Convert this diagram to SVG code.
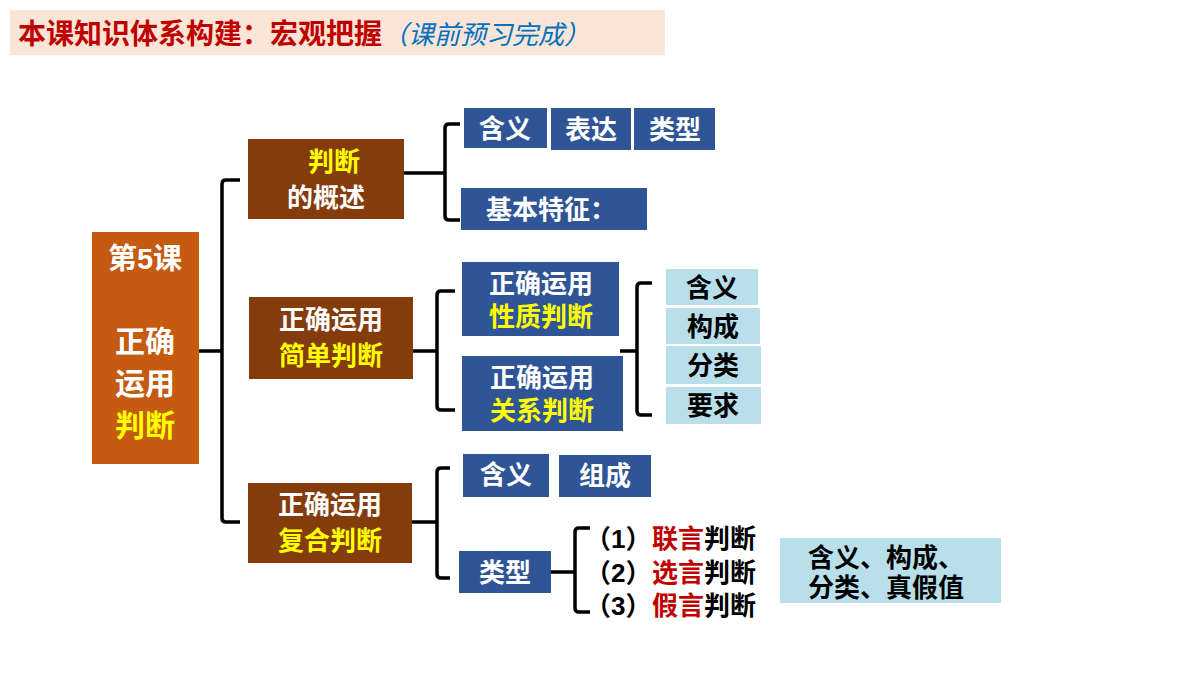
<svg xmlns="http://www.w3.org/2000/svg" width="1200" height="675" viewBox="0 0 1200 675">
<style>
text{font-family:"Liberation Sans","Noto Sans CJK SC",sans-serif;font-weight:bold}
.br{fill:#843c0c}.bl{fill:#2f5597}.lb{fill:#b9dfea}
.w{fill:#fff;font-size:26px}.y{fill:#ffff00;font-size:26px}.k{fill:#000;font-size:26px}.r{fill:#c00000;font-size:26px}
.c{stroke:#000;stroke-width:3.5;fill:none}
</style>
<rect width="1200" height="675" fill="#fff"/>
<g id="title"><rect x="10" y="10" width="655" height="45" fill="#fbe5d6"/>
<text x="18" y="44" font-size="28" fill="#c00000">本课知识体系构建：宏观把握<tspan fill="#0070c0" font-weight="normal" font-style="italic" font-size="26">（课前预习完成）</tspan></text></g>
<g id="connectors">
<path class="c" d="M199 351H222M240 180H226Q222 180 222 184V518Q222 522 226 522H240"/>
<path class="c" d="M404 173H445M460 124H449Q445 124 445 128V216Q445 220 449 220H460"/>
<path class="c" d="M413 351H437M455 291H441Q437 291 437 295V406Q437 410 441 410H455"/>
<path class="c" d="M620 351H637M652 283H641Q637 283 637 287V411Q637 415 641 415H652"/>
<path class="c" d="M412 522H437M450 468H441Q437 468 437 472V574Q437 578 441 578H450"/>
<path class="c" d="M551 572H575M590 528H579Q575 528 575 532V608Q575 612 579 612H590"/>
</g>
<g id="main"><rect x="92" y="232" width="107" height="232" fill="#c55a11"/>
<text x="145" y="269" font-size="29" fill="#fff" text-anchor="middle">第5课</text>
<text x="145" y="352" class="w" text-anchor="middle" style="font-size:30px">正确</text>
<text x="145" y="394" class="w" text-anchor="middle" style="font-size:30px">运用</text>
<text x="145" y="436" class="y" text-anchor="middle" style="font-size:30px">判断</text></g>
<g id="nodeA"><rect class="br" x="248" y="139" width="156" height="80"/><text x="334" y="171" class="y" text-anchor="middle">判断</text><text x="326" y="207" class="w" text-anchor="middle">的概述</text></g>
<g id="nodeB"><rect class="br" x="249" y="297" width="164" height="82"/><text x="331" y="329" class="w" text-anchor="middle">正确运用</text><text x="331" y="365" class="y" text-anchor="middle">简单判断</text></g>
<g id="nodeC"><rect class="br" x="248" y="483" width="164" height="80"/><text x="330" y="514" class="w" text-anchor="middle">正确运用</text><text x="330" y="550" class="y" text-anchor="middle">复合判断</text></g>
<g id="a1"><rect class="bl" x="464" y="108" width="83" height="40"/><text x="505" y="138" class="w" text-anchor="middle">含义</text></g>
<g id="a2"><rect class="bl" x="551" y="108" width="80" height="42"/><text x="591" y="139" class="w" text-anchor="middle">表达</text></g>
<g id="a3"><rect class="bl" x="634" y="108" width="81" height="42"/><text x="675" y="139" class="w" text-anchor="middle">类型</text></g>
<g id="a4"><rect class="bl" x="461" y="188" width="186" height="42"/><text x="486" y="219" class="w">基本特征：</text></g>
<g id="b1"><rect class="bl" x="462" y="262" width="157" height="74"/><text x="541" y="293" class="w" text-anchor="middle">正确运用</text><text x="541" y="326" class="y" text-anchor="middle">性质判断</text></g>
<g id="b2"><rect class="bl" x="462" y="356" width="161" height="75"/><text x="542" y="387" class="w" text-anchor="middle">正确运用</text><text x="542" y="420" class="y" text-anchor="middle">关系判断</text></g>
<g id="l1"><rect class="lb" x="666" y="269" width="92" height="36"/><text x="712" y="297" class="k" text-anchor="middle">含义</text></g>
<g id="l2"><rect class="lb" x="666" y="308" width="94" height="36"/><text x="713" y="336" class="k" text-anchor="middle">构成</text></g>
<g id="l3"><rect class="lb" x="666" y="346" width="95" height="38"/><text x="713" y="375" class="k" text-anchor="middle">分类</text></g>
<g id="l4"><rect class="lb" x="666" y="387" width="95" height="37"/><text x="713" y="415" class="k" text-anchor="middle">要求</text></g>
<g id="c1"><rect class="bl" x="463" y="454" width="86" height="43"/><text x="506" y="484" class="w" text-anchor="middle">含义</text></g>
<g id="c2"><rect class="bl" x="559" y="455" width="92" height="42"/><text x="605" y="485" class="w" text-anchor="middle">组成</text></g>
<g id="c3"><rect class="bl" x="459" y="551" width="92" height="42"/><text x="505" y="582" class="w" text-anchor="middle">类型</text></g>
<g id="types">
<text x="585" y="548" class="k">（1）<tspan x="652" class="r">联言</tspan><tspan>判断</tspan></text>
<text x="585" y="582" class="k">（2）<tspan x="652" class="r">选言</tspan><tspan>判断</tspan></text>
<text x="585" y="615" class="k">（3）<tspan x="652" class="r">假言</tspan><tspan>判断</tspan></text>
</g>
<g id="d1"><rect class="lb" x="780" y="538" width="221" height="65"/><text x="808" y="567" class="k">含义、构成、</text><text x="808" y="597" class="k">分类、真假值</text></g>
</svg>
